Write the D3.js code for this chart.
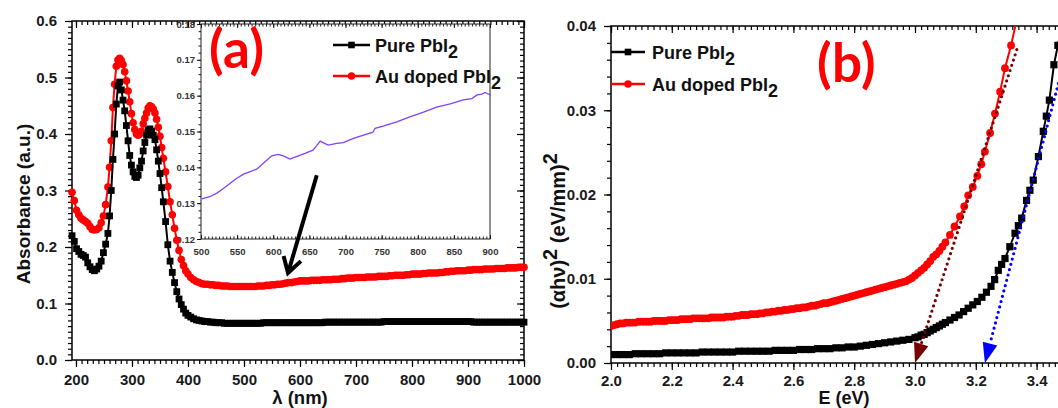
<!DOCTYPE html>
<html><head><meta charset="utf-8">
<script src="https://cdn.jsdelivr.net/npm/d3@7"></script>
<style>
body{margin:0;background:#fff;}
svg{display:block;font-family:"Liberation Sans",Arial,sans-serif;font-weight:bold;}
</style></head><body>
<svg id="c" width="1058" height="408"></svg>
<script>
// ---------- Panel (a) data ----------
const wavelength = [193,197,201,205,209,213,217,221,225,229,233,237,241,245,249,253,257,
 260,263,266,269,272,275,278,281,284,287,290,293,296,299,302,305,308,311,314,317,320,323,326,329,332,335,338,341,344,347,350,353,356,
 360,364,368,372,376,380,384,388,392,396,400,405,410,415,
 420,425,430,435,440,445,450,455,460,465,470,475,480,485,490,495,
 500,505,510,515,520,525,530,535,540,545,550,555,560,565,570,575,580,585,590,595,
 600,605,610,615,620,625,630,635,640,645,650,655,660,665,670,675,680,685,690,695,
 700,705,710,715,720,725,730,735,740,745,750,755,760,765,770,775,780,785,790,795,
 800,805,810,815,820,825,830,835,840,845,850,855,860,865,870,875,880,885,890,895,
 900,905,910,915,920,925,930,935,940,945,950,955,960,965,970,975,980,985,990,995,1000];
const absPure = [.220,.210,.197,.192,.187,.185,.182,.172,.165,.160,.158,.161,.166,.175,.190,.205,.224,
 .255,.300,.355,.400,.453,.485,.492,.478,.460,.441,.415,.388,.362,.345,.333,.325,.323,.327,.340,.352,.370,.385,.398,.407,.409,.405,.398,.390,.372,.352,.330,.305,.280,
 .245,.204,.175,.155,.137,.121,.108,.098,.090,.083,.079,.076,.073,.071,
 .070,.069,.068,.068,.067,.067,.066,.066,.066,.065,.065,.065,.065,.065,.065,.065,
 .065,.065,.065,.065,.065,.065,.065,.066,.066,.066,.066,.066,.066,.066,.066,.066,.066,.066,.066,.066,
 .066,.066,.066,.066,.066,.066,.066,.066,.066,.067,.067,.067,.067,.067,.067,.067,.067,.067,.067,.067,
 .067,.067,.067,.067,.067,.067,.067,.067,.067,.067,.068,.068,.068,.068,.068,.068,.068,.068,.068,.068,
 .068,.068,.068,.068,.068,.068,.068,.068,.068,.068,.068,.068,.068,.068,.068,.068,.068,.068,.068,.068,
 .068,.068,.067,.067,.067,.067,.067,.067,.067,.067,.067,.067,.067,.067,.067,.067,.067,.067,.067,.067,.067];
const absAu = [.297,.282,.265,.257,.251,.248,.245,.242,.236,.231,.230,.231,.234,.243,.255,.275,.306,
 .341,.388,.447,.488,.520,.531,.534,.530,.523,.510,.494,.476,.457,.436,.420,.408,.400,.398,.400,.405,.418,.428,.437,.446,.450,.448,.444,.437,.426,.412,.396,.376,.357,
 .333,.307,.280,.257,.233,.212,.194,.178,.167,.158,.152,.146,.142,.139,
 .137,.135,.134,.134,.133,.133,.132,.132,.131,.131,.131,.130,.130,.130,.130,.130,
 .130,.130,.130,.130,.130,.131,.131,.131,.132,.132,.133,.133,.134,.134,.135,.136,.137,.137,.138,.139,
 .140,.140,.140,.140,.141,.141,.141,.141,.142,.142,.142,.142,.143,.143,.143,.144,.144,.145,.145,.145,
 .146,.146,.146,.146,.147,.147,.147,.147,.148,.148,.148,.148,.149,.149,.150,.150,.150,.150,.151,.151,
 .152,.152,.152,.152,.153,.153,.154,.154,.154,.154,.155,.155,.156,.156,.157,.157,.158,.158,.158,.158,
 .159,.159,.160,.160,.160,.160,.161,.161,.161,.161,.162,.162,.162,.162,.163,.163,.163,.163,.164,.164,.164];
// inset (a)
const insetWl = [501,512,522,531,540,549,559,568,577,584,591,598,607,614,623,632,644,655,659,665,669,676,688,697,711,725,738,741,752,771,789,808,826,845,863,875,882,889,893,898,901];
const insetAbs = [.1312,.1318,.1328,.1341,.1355,.1369,.1381,.1388,.1395,.1407,.1420,.1432,.1436,.1432,.1423,.1430,.1439,.1448,.1458,.1473,.1469,.1462,.1467,.1469,.1481,.1490,.1498,.1509,.1515,.1527,.1541,.1554,.1568,.1577,.1588,.1592,.1602,.1604,.1609,.1604,.1602];
const xTicksA = [200,300,400,500,600,700,800,900,1000];
const yTicksA = [0,0.1,0.2,0.3,0.4,0.5,0.6];
const xTicksInset = [500,550,600,650,700,750,800,850,900];
const yTicksInset = [0.12,0.13,0.14,0.15,0.16,0.17,0.18];
const seriesNames = ["Pure PbI", "Au doped PbI"];

// ---------- Panel (b) data ----------
const ePure = [2.00,2.02,2.04,2.06,2.08,2.10,2.12,2.14,2.16,2.18,2.20,2.22,2.24,2.26,2.28,2.30,2.32,2.34,2.36,2.38,2.40,
 2.42,2.44,2.46,2.48,2.50,2.52,2.54,2.56,2.58,2.60,2.62,2.64,2.66,2.68,2.70,2.72,2.74,2.76,2.78,2.80,
 2.82,2.84,2.86,2.88,2.90,2.92,2.94,2.96,2.98,3.00,3.01,3.02,3.03,3.04,3.05,3.06,3.07,3.08,3.09,3.10,
 3.115,3.13,3.145,3.16,3.175,3.19,3.205,3.22,3.235,3.25,3.262,3.274,3.285,3.296,3.312,3.329,3.34,3.351,3.367,3.378,3.389,3.406,3.422,3.432,3.442,3.457,3.47,3.485];
const tPure = [.0010,.0010,.0010,.0010,.0011,.0011,.0011,.0011,.0011,.0012,.0012,.0012,.0012,.0012,.0012,.0013,.0013,.0013,.0013,.0013,.0013,
 .0014,.0014,.0014,.0014,.0014,.0014,.0015,.0015,.0015,.0015,.0016,.0016,.0016,.0017,.0017,.0017,.0018,.0018,.0019,.0019,
 .0020,.0021,.0022,.0023,.0024,.0025,.0026,.0027,.0028,.0030,.0031,.0033,.0034,.0036,.0038,.0040,.0042,.0044,.0046,.0048,
 .0051,.0054,.0057,.0061,.0065,.0069,.0073,.0078,.0084,.0091,.0099,.0110,.0117,.0124,.0138,.0154,.0163,.0172,.0193,.0205,.0217,.0245,.0275,.0293,.0312,.0354,.0377,.0405];
const eAu = [2.00,2.01,2.02,2.03,2.04,2.05,2.06,2.07,2.08,2.09,2.10,2.11,2.12,2.13,2.14,2.15,2.16,2.17,2.18,2.19,2.20,
 2.21,2.22,2.23,2.24,2.25,2.26,2.27,2.28,2.29,2.30,2.31,2.32,2.33,2.34,2.35,2.36,2.37,2.38,2.39,2.40,
 2.41,2.42,2.43,2.44,2.45,2.46,2.47,2.48,2.49,2.50,2.51,2.52,2.53,2.54,2.55,2.56,2.57,2.58,2.59,2.60,
 2.61,2.62,2.63,2.64,2.65,2.66,2.67,2.68,2.69,2.70,2.71,2.72,2.73,2.74,2.75,2.76,2.77,2.78,2.79,2.80,
 2.81,2.82,2.83,2.84,2.85,2.86,2.87,2.88,2.89,2.90,2.91,2.92,2.93,2.94,2.95,2.96,2.97,2.98,2.99,3.00,
 3.01,3.02,3.03,3.04,3.05,3.06,3.07,3.08,3.09,3.10,3.115,3.13,3.148,3.162,3.175,3.19,3.205,3.218,3.23,3.247,3.263,3.28,3.296,3.316,3.335];
const tAu = [.0044,.0045,.0046,.0047,.0047,.0048,.0048,.0048,.0048,.0049,.0049,
 .0049,.0049,.0049,.0050,.0050,.0050,.0050,.0050,.0051,.0051,
 .0051,.0051,.0052,.0052,.0052,.0052,.0053,.0053,.0053,.0053,
 .0053,.0053,.0054,.0054,.0054,.0054,.0054,.0055,.0055,.0055,
 .0056,.0056,.0057,.0057,.0057,.0058,.0058,.0058,.0059,.0059,
 .0060,.0060,.0061,.0061,.0062,.0062,.0063,.0063,.0064,.0064,
 .0065,.0065,.0066,.0066,.0067,.0068,.0068,.0069,.0070,.0071,
 .0071,.0072,.0073,.0074,.0075,.0076,.0077,.0078,.0079,.0080,
 .0081,.0082,.0083,.0084,.0085,.0086,.0087,.0088,.0089,.0090,
 .0091,.0092,.0093,.0094,.0095,.0096,.0097,.0099,.0101,.0104,
 .0107,.0110,.0113,.0117,.0121,.0126,.0129,.0133,.0138,.0143,.0152,.0162,.0174,.0186,.0199,.0209,.0222,.0236,.0251,.0273,.0296,.0322,.0350,.0377,.0408];
// tangent (band gap) lines: [start E, start value, end E, end value]
const tangentAu = [3.335, 0.0372, 3.00, 0];
const tangentPure = [3.49, 0.0357, 3.23, 0];
const xTicksB = [2.0,2.2,2.4,2.6,2.8,3.0,3.2,3.4];
const yTicksB = [0,0.01,0.02,0.03,0.04];

// ---------- drawing ----------
const svg = d3.select('#c');
const BLACK = '#000', RED = '#ff0000';

function tickAxis(g, gen, scale, values, size, tx, ty) {
  const ax = gen(scale).tickValues(values).tickSize(size).tickSizeOuter(0).tickFormat('');
  const s = g.append('g').attr('transform', `translate(${tx},${ty})`).call(ax);
  s.select('.domain').remove();
  s.selectAll('line').attr('stroke', '#000').attr('stroke-width', 1.2);
  return s;
}
function labelAxis(g, gen, scale, values, fmt, pad, tx, ty, fs, fill) {
  const ax = gen(scale).tickValues(values).tickSize(0).tickPadding(pad).tickSizeOuter(0).tickFormat(fmt);
  const s = g.append('g').attr('transform', `translate(${tx},${ty})`).call(ax);
  s.select('.domain').remove();
  s.selectAll('text').attr('font-family', '"Liberation Sans",Arial,sans-serif')
    .attr('font-weight', 'bold').attr('font-size', fs).attr('fill', fill);
  return s;
}
function frame(g, x, y, sw) {
  const [x0, x1] = x.range(), [y0, y1] = y.range();
  g.append('rect').attr('x', x0).attr('y', y1).attr('width', x1 - x0).attr('height', y0 - y1)
    .attr('fill', 'none').attr('stroke', '#000').attr('stroke-width', sw);
}
function rangeTicks(a, b, s) { const out = []; for (let v = a; v <= b + s / 1e3; v += s) out.push(+v.toFixed(6)); return out; }

// ===== Panel A =====
const xA = d3.scaleLinear().domain([192.9, 1000]).range([72, 524]);
const yA = d3.scaleLinear().domain([0, 0.6]).range([360, 21]);
const gA = svg.append('g');
const xI = d3.scaleLinear().domain([500, 900]).range([201, 490]);
const yI = d3.scaleLinear().domain([0.12, 0.18]).range([239, 24]);

const xMinA = rangeTicks(200, 1000, 10), yMinA = rangeTicks(0, 0.6, 0.01);
[360, 21].forEach(ty => {
  tickAxis(gA, d3.axisBottom, xA, xTicksA, 7, 0, ty);
  tickAxis(gA, d3.axisBottom, xA, xMinA, 4, 0, ty);
});
[72, 524].forEach(tx => {
  tickAxis(gA, d3.axisLeft, yA, yTicksA, 7, tx, 0);
  tickAxis(gA, d3.axisLeft, yA, yMinA, 4, tx, 0);
});
frame(gA, xA, yA, 1.5);
labelAxis(gA, d3.axisBottom, xA, xTicksA, d3.format('d'), 14, 0, 360, 15, '#1a1a1a');
labelAxis(gA, d3.axisLeft, yA, yTicksA, d3.format('.1f'), 15, 72, 0, 15, '#1a1a1a');

// inset
const gI = gA.append('g');
gI.append('rect').attr('x', 201).attr('y', 24).attr('width', 289).attr('height', 215).attr('fill', '#fff');
tickAxis(gI, d3.axisTop, xI, xTicksInset, 4, 0, 239);
tickAxis(gI, d3.axisTop, xI, rangeTicks(500, 900, 5), 2.5, 0, 239);
tickAxis(gI, d3.axisBottom, xI, xTicksInset, 4, 0, 24);
tickAxis(gI, d3.axisBottom, xI, rangeTicks(500, 900, 5), 2.5, 0, 24);
tickAxis(gI, d3.axisLeft, yI, yTicksInset, 4, 201, 0);
tickAxis(gI, d3.axisLeft, yI, rangeTicks(0.12, 0.18, 0.002), 2.5, 201, 0);
gI.selectAll('line').attr('stroke-width', 0.9);
gI.append('rect').attr('x', 201).attr('y', 24).attr('width', 289).attr('height', 215)
  .attr('fill', 'none').attr('stroke', '#222').attr('stroke-width', 1);
labelAxis(gI, d3.axisBottom, xI, xTicksInset, d3.format('d'), 9, 0, 239, 9.5, '#333');
labelAxis(gI, d3.axisLeft, yI, yTicksInset, d3.format('.2f'), 6, 201, 0, 9.5, '#333');
gI.append('path').datum(insetWl.map((w, i) => [w, insetAbs[i]]))
  .attr('d', d3.line().x(d => xI(d[0])).y(d => yI(d[1])))
  .attr('fill', 'none').attr('stroke', '#8040ff').attr('stroke-width', 1.3);

// main curves A
const lineA = d3.line().x(d => xA(d[0])).y(d => yA(d[1]));
const pureA = wavelength.map((w, i) => [w, absPure[i]]);
const auA = wavelength.map((w, i) => [w, absAu[i]]);
gA.append('path').datum(auA).attr('d', lineA).attr('fill', 'none').attr('stroke', RED).attr('stroke-width', 2);
gA.selectAll('.mAu').data(auA).enter().append('circle')
  .attr('cx', d => xA(d[0])).attr('cy', d => yA(d[1])).attr('r', 3.8).attr('fill', RED);
gA.append('path').datum(pureA).attr('d', lineA).attr('fill', 'none').attr('stroke', BLACK).attr('stroke-width', 2);
gA.selectAll('.mP').data(pureA).enter().append('rect')
  .attr('x', d => xA(d[0]) - 3.4).attr('y', d => yA(d[1]) - 3.4).attr('width', 6.8).attr('height', 6.8).attr('fill', BLACK);

// arrow A (annotation in data units)
const arrA = [[630, 0.327], [578.6, 0.154]];
{
  const [p0, p1] = arrA.map(d => [xA(d[0]), yA(d[1])]);
  const dx = p1[0] - p0[0], dy = p1[1] - p0[1], L = Math.hypot(dx, dy), ux = dx / L, uy = dy / L;
  const hl = 15, hw = 9;
  gA.append('line').attr('x1', p0[0]).attr('y1', p0[1]).attr('x2', p1[0] - ux * 3).attr('y2', p1[1] - uy * 3)
    .attr('stroke', '#000').attr('stroke-width', 4);
  const b = [p1[0] - ux * hl, p1[1] - uy * hl];
  gA.append('path').attr('d', `M${b[0] - uy * hw},${b[1] + ux * hw} L${p1[0]},${p1[1]} L${b[0] + uy * hw},${b[1] - ux * hw}`)
    .attr('fill', 'none').attr('stroke', '#000').attr('stroke-width', 4).attr('stroke-linejoin', 'miter');
}

// legend
function legend(g, x0, x1, ys, tx) {
  ys.forEach((yy, i) => {
    const col = i === 0 ? BLACK : RED;
    g.append('line').attr('x1', x0).attr('x2', x1).attr('y1', yy).attr('y2', yy).attr('stroke', col).attr('stroke-width', 2.5);
    const cx = (x0 + x1) / 2;
    if (i === 0) g.append('rect').attr('x', cx - 3.3).attr('y', yy - 3.3).attr('width', 6.6).attr('height', 6.6).attr('fill', col);
    else g.append('circle').attr('cx', cx).attr('cy', yy).attr('r', 3.7).attr('fill', col);
    const t = g.append('text').attr('x', tx).attr('y', yy + 6.5).attr('font-size', 18).attr('fill', '#111');
    t.append('tspan').text(seriesNames[i]);
    t.append('tspan').attr('dy', 6).text('2');
  });
}
legend(gA, 333, 370, [45, 76], 375);

gA.append('text').attr('x', 209).attr('y', 68).attr('font-family', 'Lato, "Open Sans", sans-serif')
  .attr('font-weight', 'bold').attr('font-size', 53).attr('letter-spacing', 0.5).attr('fill', RED).text('(a)');
gA.append('text').attr('transform', 'translate(30,204) rotate(-90)').attr('text-anchor', 'middle')
  .attr('font-size', 19).attr('fill', '#111').text('Absorbance (a.u.)');
gA.append('text').attr('x', 300).attr('y', 404).attr('text-anchor', 'middle')
  .attr('font-size', 18.5).attr('fill', '#111').text('λ (nm)');

// ===== Panel B =====
const xB = d3.scaleLinear().domain([2.0, 3.5]).range([611, 1067]);
const yB = d3.scaleLinear().domain([0, 0.04]).range([363, 26]);
const gB = svg.append('g');
svg.append('defs').append('clipPath').attr('id', 'clipB').append('rect')
  .attr('x', 611).attr('y', 26).attr('width', 456).attr('height', 337);

const xMinB = rangeTicks(2.0, 3.5, 0.02), yMinB = rangeTicks(0, 0.04, 0.002);
[363, 26].forEach(ty => {
  tickAxis(gB, d3.axisBottom, xB, xTicksB, 7, 0, ty);
  tickAxis(gB, d3.axisBottom, xB, xMinB, 4, 0, ty);
});
[611, 1067].forEach(tx => {
  tickAxis(gB, d3.axisLeft, yB, yTicksB, 7, tx, 0);
  tickAxis(gB, d3.axisLeft, yB, yMinB, 4, tx, 0);
});
frame(gB, xB, yB, 1.5);
labelAxis(gB, d3.axisBottom, xB, xTicksB, d3.format('.1f'), 12.5, 0, 363, 15, '#1a1a1a');
labelAxis(gB, d3.axisLeft, yB, yTicksB, d3.format('.2f'), 15, 611, 0, 15, '#1a1a1a');

const cB = gB.append('g').attr('clip-path', 'url(#clipB)');
const lineB = d3.line().x(d => xB(d[0])).y(d => yB(d[1]));
const auB = eAu.map((e, i) => [e, tAu[i]]);
const pureB = ePure.map((e, i) => [e, tPure[i]]);
cB.append('path').datum(auB).attr('d', lineB).attr('fill', 'none').attr('stroke', RED).attr('stroke-width', 2);
cB.selectAll('.mAuB').data(auB).enter().append('circle')
  .attr('cx', d => xB(d[0])).attr('cy', d => yB(d[1])).attr('r', 3.9).attr('fill', RED);
cB.append('path').datum(pureB).attr('d', lineB).attr('fill', 'none').attr('stroke', BLACK).attr('stroke-width', 2);
cB.selectAll('.mPB').data(pureB).enter().append('rect')
  .attr('x', d => xB(d[0]) - 3.6).attr('y', d => yB(d[1]) - 3.6).attr('width', 7.2).attr('height', 7.2).attr('fill', BLACK);

function tangent(g, t, col) {
  const p0 = [xB(t[0]), yB(t[1])], p1 = [xB(t[2]), yB(t[3])];
  const dx = p1[0] - p0[0], dy = p1[1] - p0[1], L = Math.hypot(dx, dy), ux = dx / L, uy = dy / L;
  const hl = 20, hw = 7.5;
  const b = [p1[0] - ux * hl, p1[1] - uy * hl];
  g.append('line').attr('x1', p0[0]).attr('y1', p0[1]).attr('x2', b[0]).attr('y2', b[1])
    .attr('stroke', col).attr('stroke-width', 3.2).attr('stroke-linecap', 'round').attr('stroke-dasharray', '0 5.5');
  g.append('path').attr('d', `M${b[0] - uy * hw},${b[1] + ux * hw} L${p1[0]},${p1[1]} L${b[0] + uy * hw},${b[1] - ux * hw}Z`)
    .attr('fill', col);
}
tangent(cB, tangentAu, '#7a0000');
tangent(cB, tangentPure, '#0000ff');

legend(gB, 611, 645, [52, 84], 652);

gB.append('text').attr('x', 817).attr('y', 82).attr('font-family', 'Lato, "Open Sans", sans-serif')
  .attr('font-weight', 'bold').attr('font-size', 53).attr('letter-spacing', 0.5).attr('fill', RED).text('(b)');
{
  const t = gB.append('text').attr('transform', 'translate(565,231) rotate(-90)').attr('text-anchor', 'middle')
    .attr('font-size', 20).attr('fill', '#111');
  t.append('tspan').text('(αhν)');
  t.append('tspan').attr('dy', -8).text('2');
  t.append('tspan').attr('dy', 8).text(' (eV/mm)');
  t.append('tspan').attr('dy', -8).text('2');
}
gB.append('text').attr('x', 844).attr('y', 404).attr('text-anchor', 'middle')
  .attr('font-size', 18).attr('fill', '#111').text('E (eV)');
</script>
</body></html>
